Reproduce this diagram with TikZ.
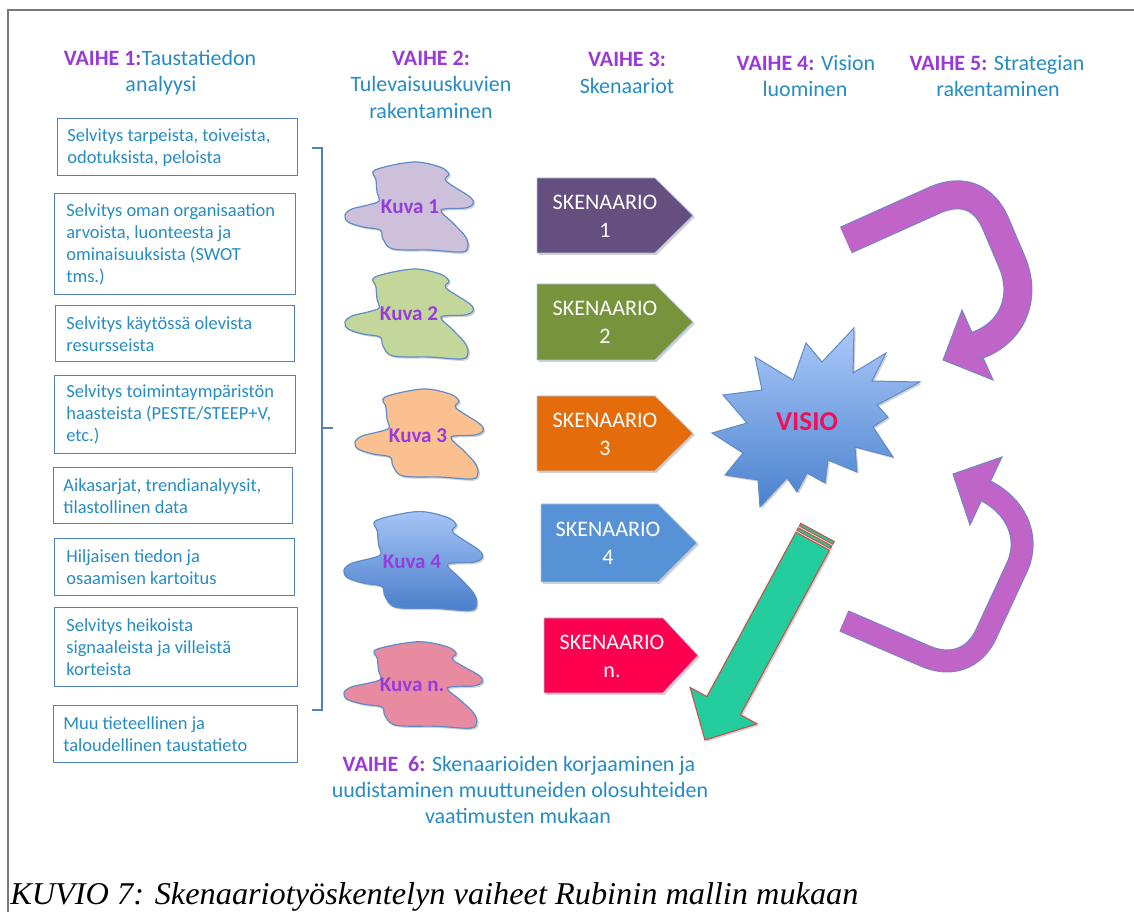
\documentclass[tikz,border=0pt]{standalone}
\usepackage{fontspec}
\usepackage{graphicx}
\newfontfamily\carl{Carlito}
\newfontfamily\capfont{Liberation Serif}
\usetikzlibrary{shadows}

\definecolor{vaihe}{RGB}{153,58,214}
\definecolor{txtblue}{RGB}{38,140,196}
\definecolor{boxline}{RGB}{79,129,189}
\definecolor{frameline}{RGB}{120,120,120}
\definecolor{cloudline}{RGB}{95,140,200}
\definecolor{kuvatxt}{RGB}{150,60,220}
\definecolor{kuvaA}{RGB}{204,192,218}
\definecolor{kuvaB}{RGB}{196,215,155}
\definecolor{kuvaC}{RGB}{250,192,144}
\definecolor{kuvaDtop}{RGB}{166,196,246}
\definecolor{kuvaDbot}{RGB}{72,126,202}
\definecolor{kuvaE}{RGB}{232,138,160}
\definecolor{skA}{RGB}{100,79,127}
\definecolor{skB}{RGB}{119,147,60}
\definecolor{skC}{RGB}{228,108,10}
\definecolor{skD}{RGB}{88,146,214}
\definecolor{skE}{RGB}{255,0,80}
\definecolor{burstTop}{RGB}{170,200,248}
\definecolor{burstBot}{RGB}{74,130,206}
\definecolor{visiotxt}{RGB}{240,16,90}
\definecolor{loop}{RGB}{193,100,200}
\definecolor{loopline}{RGB}{110,135,200}
\definecolor{back}{RGB}{36,205,157}
\definecolor{backline}{RGB}{192,90,80}

\newlength\px \setlength\px{0.02cm}
\newcommand\vh[1]{{\bfseries\color{vaihe}#1}}
% irregular "picture" blob around a centre, with extra transform and style
\newcommand\blob[3]{%
  \begin{scope}[shift={(#1)},#2]
    \draw[#3] plot[smooth cycle, tension=0.55] coordinates {(-33,-36) (5,-44) (32,-39) (41,-32) (38,-25) (62,-9) (65,-2) (57,2) (33,4) (45,17) (57,30) (60,40) (54,46) (22,44) (-15,43) (-25,33) (-28,24) (-45,21) (-60,16) (-63,9) (-56,3) (-40,-1) (-29,-5) (-31,-14) (-32,-26)};
  \end{scope}}

\tikzset{
  hdr/.style={font=\carl\fontsize{12.5}{15}\selectfont, text=txtblue, anchor=base, inner sep=0},
  infobox/.style={draw=boxline, line width=1.4\px, anchor=north west, inner sep=0},
  infotext/.style={font=\carl\fontsize{10.5}{12.5}\selectfont, text=txtblue, align=left, anchor=west, inner sep=0},
  bracket/.style={draw=boxline, line width=2.6\px},
  shade1/.style={drop shadow={shadow xshift=1pt, shadow yshift=-1pt, opacity=0.35}},
  cloud/.style={draw=cloudline, line width=1.2\px, shade1},
  kuva/.style={font=\carl\bfseries\fontsize{12}{14}\selectfont, text=kuvatxt, inner sep=0},
  skshape/.style={draw=cloudline!50, line width=0.8\px, shade1},
  sktext/.style={font=\carl\fontsize{12.6}{15.9}\selectfont, text=white, align=center, inner sep=0},
  loopline/.style={draw=loopline, line cap=butt},
  loopfill/.style={draw=loop, line cap=butt},
  loophead/.style={fill=loop, draw=loopline, line width=1\px, line join=miter},
  backarrow/.style={fill=back, draw=backline, line width=1.2\px, line join=miter}
}

\begin{document}
\begin{tikzpicture}[x=0.02cm, y=-0.02cm]
\useasboundingbox (0,0) rectangle (1134,912);
\fill[white] (0,0) rectangle (1134,912);

% page frame (top and left edges)
\draw[frameline, line width=2\px] (1134,10) -- (8,10) -- (8,912);

% phase headings
\node[hdr] (h1a) at (160,66) {\vh{VAIHE 1:}Taustatiedon};
\node[hdr] (h1b) at (161,92) {analyysi};
\node[hdr] (h2a) at (431,66) {\vh{VAIHE 2:}};
\node[hdr] (h2b) at (431,92) {Tulevaisuuskuvien};
\node[hdr] (h2c) at (431,119) {rakentaminen};
\node[hdr] (h3a) at (627,67) {\vh{VAIHE 3:}};
\node[hdr] (h3b) at (627,94) {Skenaariot};
\node[hdr] (h4a) at (806,71) {\vh{VAIHE 4:} Vision};
\node[hdr] (h4b) at (805,97) {luominen};
\node[hdr] (h5a) at (997,71) {\vh{VAIHE 5:} Strategian};
\node[hdr] (h5b) at (998,97) {rakentaminen};

% background analysis boxes
\node[infobox, minimum width=240\px, minimum height=57\px] (b1) at (57,118) {};
\node[infotext] (t1) at ([xshift=10\px]b1.west) {Selvitys tarpeista, toiveista,\\odotuksista, peloista};
\node[infobox, minimum width=241\px, minimum height=101\px] (b2) at (54,193) {};
\node[infotext] (t2) at ([xshift=12\px]b2.west) {Selvitys oman organisaation\\arvoista, luonteesta ja\\ominaisuuksista (SWOT\\tms.)};
\node[infobox, minimum width=239\px, minimum height=56\px] (b3) at (55,305) {};
\node[infotext] (t3) at ([xshift=11\px]b3.west) {Selvitys käytössä olevista\\resursseista};
\node[infobox, minimum width=241\px, minimum height=78\px] (b4) at (54,375) {};
\node[infotext] (t4) at ([xshift=12\px]b4.west) {Selvitys toimintaympäristön\\haasteista (PESTE/STEEP+V,\\etc.)};
\node[infobox, minimum width=239\px, minimum height=56\px] (b5) at (53,467) {};
\node[infotext] (t5) at ([xshift=10\px]b5.west) {Aikasarjat, trendianalyysit,\\tilastollinen data};
\node[infobox, minimum width=240\px, minimum height=57\px] (b6) at (54,538) {};
\node[infotext] (t6) at ([xshift=12\px]b6.west) {Hiljaisen tiedon ja\\osaamisen kartoitus};
\node[infobox, minimum width=243\px, minimum height=79\px] (b7) at (54,607) {};
\node[infotext] (t7) at ([xshift=12\px]b7.west) {Selvitys heikoista\\signaaleista ja villeistä\\korteista};
\node[infobox, minimum width=244\px, minimum height=57\px] (b8) at (53,705) {};
\node[infotext] (t8) at ([xshift=10\px]b8.west) {Muu tieteellinen ja\\taloudellinen taustatieto};

% bracket gathering the boxes
\coordinate (brT) at (312,148);
\coordinate (brB) at (312,710);
\coordinate (brM) at (322,428);
\draw[bracket] (brT) -- ++(10,0) |- (brB);
\draw[bracket] (brM) -- ++(11,0);

% future pictures
\blob{408,206}{}{cloud, fill=kuvaA}
\node[kuva] (k1) at (410,207) {Kuva 1};
\blob{408,313}{}{cloud, fill=kuvaB}
\node[kuva] (k2) at (409,314) {Kuva 2};
\blob{418,433}{}{cloud, fill=kuvaC}
\node[kuva] (k3) at (418,436) {Kuva 3};
\blob{412,560}{xscale=1.08, yscale=1.1}{cloud, top color=kuvaDtop, bottom color=kuvaDbot}
\node[kuva] (k4) at (412,562) {Kuva 4};
\blob{412,684}{xscale=1.08, yscale=0.96}{cloud, fill=kuvaE}
\node[kuva] (k5) at (412,685) {Kuva n.};

% scenario signs
\filldraw[skshape, fill=skA] (537,178) -- (655,178) -- (693,215.5) -- (655,253) -- (537,253) -- cycle;
\node[sktext] (s1) at (605,216) {SKENAARIO\\1};
\filldraw[skshape, fill=skB] (537,284) -- (655,284) -- (693,322) -- (655,360) -- (537,360) -- cycle;
\node[sktext] (s2) at (605,322) {SKENAARIO\\2};
\filldraw[skshape, fill=skC] (537,396) -- (655,396) -- (693,433.5) -- (655,471) -- (537,471) -- cycle;
\node[sktext] (s3) at (605,434) {SKENAARIO\\3};
\filldraw[skshape, fill=skD] (541,504) -- (658,504) -- (697,543) -- (658,582) -- (541,582) -- cycle;
\node[sktext] (s4) at (608,543) {SKENAARIO\\4};
\filldraw[skshape, fill=skE] (544,618) -- (663,618) -- (698,655.5) -- (663,693) -- (544,693) -- cycle;
\node[sktext] (s5) at (612,656) {SKENAARIO\\n.};

% vision starburst
\draw[shade1, top color=burstTop, bottom color=burstBot, draw=cloudline, line width=1\px, line join=miter]
  (854,328) -- (853,373) -- (886,353) -- (872,381) -- (920,382) -- (877,405) -- (888,417) -- (873,427)
  -- (893,457) -- (855,447) -- (857,472) -- (828,460) -- (825,483) -- (807,473) -- (797,492) -- (787,478)
  -- (760,507) -- (758,480) -- (725,475) -- (743,453) -- (712,433) -- (747,423) -- (723,395) -- (762,390)
  -- (755,357) -- (793,380) -- (806,343) -- (822,362) -- cycle;
\node[font=\carl\bfseries\fontsize{15.5}{18}\selectfont, text=visiotxt, inner sep=0] (visio) at (807,422) {VISIO};

% strategy loop, upper arrow
\filldraw[loophead] (962,310) -- (943,360) -- (993,380) -- cycle;
\draw[loopline, line width=29\px] (846,240) -- (935,200) .. controls (965,187) and (985,200) .. (995,222) -- (1012,262) .. controls (1028,300) and (1010,335) .. (975,346);
\draw[loopfill, line width=27\px] (846,240) -- (935,200) .. controls (965,187) and (985,200) .. (995,222) -- (1012,262) .. controls (1028,300) and (1010,335) .. (975,346);

% strategy loop, lower arrow
\filldraw[loophead] (1002,457) -- (953,474) -- (970,525) -- cycle;
\draw[loopline, line width=23\px] (844,621) -- (925,656) .. controls (950,667) and (975,660) .. (987,632) -- (1018,565) .. controls (1030,535) and (1015,505) .. (984,490);
\draw[loopfill, line width=21\px] (844,621) -- (925,656) .. controls (950,667) and (975,660) .. (987,632) -- (1018,565) .. controls (1030,535) and (1015,505) .. (984,490);

% revision arrow back towards the scenarios
\filldraw[backarrow] (800.8,523.4) -- (834.2,541.6) -- (832.8,544.2) -- (799.4,526.0) -- cycle;
\filldraw[backarrow] (798.4,527.8) -- (831.8,546.0) -- (830.4,548.6) -- (797.0,530.4) -- cycle;
\filldraw[backarrow, shade1] (796.0,532.2) -- (829.4,550.3) -- (740.3,714.8) -- (757.0,723.8) -- (705,740) -- (690.2,687.6) -- (706.9,696.6) -- cycle;

% phase 6 text
\node[hdr] (h6a) at (519,771) {\vh{VAIHE\ \ 6:} Skenaarioiden korjaaminen ja};
\node[hdr] (h6b) at (520,797) {uudistaminen muuttuneiden olosuhteiden};
\node[hdr] (h6c) at (518,823) {vaatimusten mukaan};

% caption
\node[anchor=base west, inner sep=0] (cap) at (10,904)
  {\resizebox{848\px}{22\px}{\capfont\itshape KUVIO 7: Skenaariotyöskentelyn vaiheet Rubinin mallin mukaan}};
\end{tikzpicture}
\end{document}
